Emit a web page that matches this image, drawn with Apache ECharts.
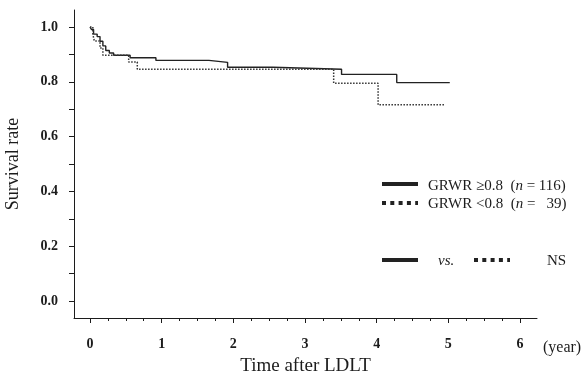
<!DOCTYPE html>
<html>
<head>
<meta charset="utf-8">
<style>
  html, body { margin: 0; padding: 0; background: #fff; }
  #chart { width: 583px; height: 377px; }
</style>
<script src="https://cdn.jsdelivr.net/npm/echarts@6/dist/echarts.min.js"></script>
</head>
<body>
<div id="chart"></div>
<script>
// Kaplan-Meier step data: [years after LDLT, survival] — value holds from that time on
const grwrHigh = [
  [0, 1.0], [0.02, 0.991], [0.05, 0.974], [0.10, 0.965], [0.14, 0.948],
  [0.18, 0.931], [0.22, 0.914], [0.27, 0.905], [0.33, 0.897], [0.56, 0.888],
  [0.92, 0.878], [1.66, 0.871], [1.92, 0.853], [2.55, 0.846], [3.51, 0.827],
  [4.28, 0.797], [5.02, 0.797]
];
const grwrLow = [
  [0, 1.0], [0.04, 0.974], [0.06, 0.949], [0.14, 0.923], [0.18, 0.897],
  [0.54, 0.872], [0.66, 0.846], [3.40, 0.795], [4.02, 0.716], [4.95, 0.716]
];

const xMajorTicks = [0, 1, 2, 3, 4, 5, 6];
const xMinorTicks = [0, 0.25, 0.5, 0.75, 1, 1.25, 1.5, 1.75, 2, 2.25, 2.5, 2.75, 3,
  3.25, 3.5, 3.75, 4, 4.25, 4.5, 4.75, 5, 5.25, 5.5, 5.75, 6];
const yTicks = [0, 0.1, 0.2, 0.3, 0.4, 0.5, 0.6, 0.7, 0.8, 0.9, 1.0];
const yLabels = [0, 0.2, 0.4, 0.6, 0.8, 1.0];

const legendRows = [
  { label: 'GRWR ≥0.8  (', n: '116' },
  { label: 'GRWR <0.8  (', n: '  39' }
];
const compareText = { vs: 'vs.', result: 'NS' };

const ink = '#1c1c1c';
const serif = '"Liberation Serif", "DejaVu Serif", serif';

const chart = echarts.init(document.getElementById('chart'), null, { renderer: 'canvas' });

const legendText = (row) => ({
  type: 'text',
  style: {
    text: '{a|' + row.label + '}{i|n}{a| = ' + row.n + ')}',
    rich: {
      a: { fontFamily: serif, fontSize: 15, fill: ink },
      i: { fontFamily: serif, fontSize: 15, fontStyle: 'italic', fill: ink }
    },
    verticalAlign: 'middle'
  }
});

chart.setOption({
  animation: false,
  backgroundColor: '#fff',
  grid: { left: 74, right: 46, top: 10, bottom: 59, outerBoundsMode: 'none', containLabel: false },
  xAxis: [
    {
      type: 'value', min: -0.223, max: 6.237,
      axisLine: { show: true, onZero: false, lineStyle: { color: ink, width: 1 } },
      axisTick: { show: true, customValues: xMinorTicks, length: 3, lineStyle: { color: ink } },
      axisLabel: { show: false },
      splitLine: { show: false },
      name: 'Time after LDLT', nameLocation: 'middle', nameGap: 39,
      nameTextStyle: { fontFamily: serif, fontSize: 19, color: ink }
    },
    {
      type: 'value', min: -0.223, max: 6.237, position: 'bottom',
      axisLine: { show: false, onZero: false },
      axisTick: { show: true, customValues: xMajorTicks, length: 5, lineStyle: { color: ink } },
      axisLabel: {
        show: true, customValues: xMajorTicks, margin: 19,
        fontFamily: serif, fontSize: 14, fontWeight: 'bold', color: ink
      },
      splitLine: { show: false }
    }
  ],
  yAxis: {
    type: 'value', min: -0.062, max: 1.062,
    axisLine: { show: true, onZero: false, lineStyle: { color: ink, width: 1 } },
    axisTick: { show: true, customValues: yTicks, length: 5, lineStyle: { color: ink } },
    axisLabel: {
      show: true, customValues: yLabels, margin: 16,
      formatter: (v) => v.toFixed(1),
      fontFamily: serif, fontSize: 14, fontWeight: 'bold', color: ink
    },
    splitLine: { show: false },
    name: 'Survival rate', nameLocation: 'middle', nameRotate: 90, nameGap: 52,
    nameTextStyle: { fontFamily: serif, fontSize: 18, color: ink }
  },
  series: [
    {
      name: 'GRWR ≥0.8', type: 'line', step: 'end', xAxisIndex: 0,
      data: grwrHigh, symbol: 'none',
      lineStyle: { color: '#222', width: 1.4, type: 'solid' }
    },
    {
      name: 'GRWR <0.8', type: 'line', step: 'end', xAxisIndex: 0,
      data: grwrLow, symbol: 'none',
      lineStyle: { color: '#333', width: 1.5, type: [1.5, 1.5] }
    }
  ],
  graphic: [
    { type: 'text', left: 543, top: 340,
      style: { text: '(year)', fontFamily: serif, fontSize: 16, fill: ink } },
    // key
    { type: 'line', shape: { x1: 382, y1: 184, x2: 418, y2: 184 },
      style: { stroke: '#222', lineWidth: 4 } },
    Object.assign(legendText(legendRows[0]), { x: 428, y: 186 }),
    { type: 'line', shape: { x1: 382, y1: 203, x2: 418, y2: 203 },
      style: { stroke: '#222', lineWidth: 4, lineDash: [4, 4.3] } },
    Object.assign(legendText(legendRows[1]), { x: 428, y: 204 }),
    // comparison row
    { type: 'line', shape: { x1: 382, y1: 260, x2: 418, y2: 260 },
      style: { stroke: '#222', lineWidth: 4 } },
    { type: 'text', x: 438, y: 261,
      style: { text: compareText.vs, fontFamily: serif, fontSize: 15, fontStyle: 'italic',
               fill: ink, verticalAlign: 'middle' } },
    { type: 'line', shape: { x1: 474, y1: 260, x2: 510, y2: 260 },
      style: { stroke: '#222', lineWidth: 4, lineDash: [4, 4.3] } },
    { type: 'text', x: 547, y: 261,
      style: { text: compareText.result, fontFamily: serif, fontSize: 15,
               fill: ink, verticalAlign: 'middle' } }
  ]
});
</script>
</body>
</html>
